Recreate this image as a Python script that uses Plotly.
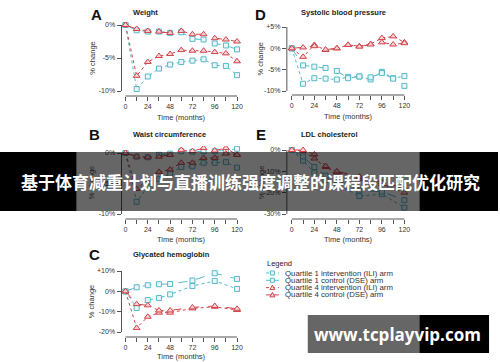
import plotly.graph_objects as go

W, H = 500, 362

# ---------------- data ----------------
months11 = [0, 12, 24, 36, 48, 60, 72, 84, 96, 108, 120]
months8 = [0, 12, 24, 36, 48, 72, 96, 120]
x_tick_vals = [0, 12, 24, 36, 48, 60, 72, 84, 96, 108, 120]
x_tick_text = ["0", "", "24", "", "48", "", "72", "", "96", "", "120"]

weight_q1_ili = [0, -9.7, -7.8, -6.6, -6.0, -5.6, -5.4, -5.2, -6.1, -6.2, -7.6]
weight_q1_dse = [0, -0.8, -1.0, -1.0, -1.2, -1.1, -2.1, -2.2, -2.8, -3.1, -3.7]
weight_q4_ili = [0, -7.7, -5.6, -4.7, -4.4, -3.8, -3.9, -3.9, -4.1, -4.3, -5.5]
weight_q4_dse = [0, -0.6, -0.9, -1.0, -1.2, -0.9, -1.4, -1.4, -2.0, -2.2, -2.5]

sbp_q1_ili = [0, -8.3, -7.0, -7.1, -7.3, -6.7, -6.6, -7.3, -5.5, -7.0, -6.5]
sbp_q1_dse = [0, -4.0, -4.3, -4.6, -5.3, -7.0, -6.6, -6.8, -5.8, -7.1, -8.8]
sbp_q4_ili = [0, -2.0, 0.8, -0.4, 0.0, 0.8, 0.5, 1.0, 2.4, 2.8, 1.4]
sbp_q4_dse = [0, 0.2, 0.5, -0.3, 0.0, 0.8, 0.4, 0.9, 1.4, 0.9, 1.2]

waist_q1_ili = [0, -8.0, -5.5, -4.3, -3.4, -2.3, -2.2, -1.6, -1.6, -1.5, -2.4]
waist_q1_dse = [0, -0.6, -0.7, -0.3, -0.1, 0.3, 0.2, 0.3, 0.3, 0.4, 0.7]
waist_q4_ili = [0, -5.9, -4.4, -3.1, -2.7, -1.6, -1.6, -0.8, -0.8, -0.1, -0.3]
waist_q4_dse = [0, -0.6, -0.7, -0.6, -0.3, 0.5, 0.3, 0.8, 0.4, 0.8, -0.3]

ldl_q1_ili = [0, -5.0, -10.5, -14.0, -16.0, -21.6, -20.7, -27.0]
ldl_q1_dse = [0, -3.0, -8.0, -12.0, -14.0, -19.0, -19.5, -23.5]
ldl_q4_ili = [0, -0.5, -4.0, -8.0, -10.5, -13.5, -16.0, -20.0]
ldl_q4_dse = [0, 0.0, -2.0, -7.5, -10.0, -12.5, -15.0, -18.0]

hba1c_q1_ili = [0, -8.2, -4.3, -3.3, -1.5, 2.6, 5.1, 1.2]
hba1c_q1_dse = [0, 2.0, 3.0, 3.5, 3.6, 5.3, 8.9, 6.1]
hba1c_q4_ili = [0, -18.0, -12.5, -10.5, -10.5, -8.4, -7.6, -9.2]
hba1c_q4_dse = [0, -6.3, -6.9, -9.4, -9.4, -7.9, -7.2, -8.6]

legend_labels = [
    "Quartile 1 intervention (ILI) arm",
    "Quartile 1 control (DSE) arm",
    "Quartile 4 intervention (ILI) arm",
    "Quartile 4 control (DSE) arm",
]
banner_text = "基于体育减重计划与直播训练强度调整的课程段匹配优化研究"
watermark_text = "www.tcplayvip.com"

# ---------------- styles ----------------
CYAN = "#56B9CB"
RED = "#D2434B"
CYAN_FILL = "#EAF6F8"
RED_FILL = "#F6D3D5"
AX = "#555555"
TXT = "#333333"
FONT = "Liberation Sans, Arial, sans-serif"

# panel geometry in pixels: left, right, x@0, x@120, top, bottom, (v1, py1), (v2, py2)
panels = [
    dict(key="A", title="Weight", months=months11,
         series=[weight_q1_ili, weight_q1_dse, weight_q4_ili, weight_q4_dse],
         geo=(122, 242, 126, 238, 20, 96, (0, 25), (-10, 91)),
         yt=[0, -5, -10], ytt=["0%", "-5%", "-10%"],
         letter=(97, 15), title_xy=(132, 12), ylab_x=92, xlab_dy=21),
    dict(key="D", title="Systolic blood pressure", months=months11,
         series=[sbp_q1_ili, sbp_q1_dse, sbp_q4_ili, sbp_q4_dse],
         geo=(288, 410, 293, 406, 22, 95, (5, 27), (-10, 91)),
         yt=[5, 0, -5, -10], ytt=["+5%", "0%", "-5%", "-10%"],
         letter=(262, 15), title_xy=(300, 13), ylab_x=262, xlab_dy=21),
    dict(key="B", title="Waist circumference", months=months11,
         series=[waist_q1_ili, waist_q1_dse, waist_q4_ili, waist_q4_dse],
         geo=(122, 242, 126, 238, 146, 219, (0, 153), (-10, 214)),
         yt=[0, -5, -10], ytt=["0%", "-5%", "-10%"],
         letter=(95, 134), title_xy=(132, 134), ylab_x=92, xlab_dy=20),
    dict(key="E", title="LDL cholesterol", months=months8,
         series=[ldl_q1_ili, ldl_q1_dse, ldl_q4_ili, ldl_q4_dse],
         geo=(288, 410, 293, 406, 145, 219, (0, 150), (-30, 214)),
         yt=[0, -10, -20, -30], ytt=["0%", "-10%", "-20%", "-30%"],
         letter=(262, 134), title_xy=(300, 134), ylab_x=262, xlab_dy=20),
    dict(key="C", title="Glycated hemoglobin", months=months8,
         series=[hba1c_q1_ili, hba1c_q1_dse, hba1c_q4_ili, hba1c_q4_dse],
         geo=(122, 242, 126, 238, 266, 337, (10, 271), (-20, 332)),
         yt=[10, 0, -10, -20], ytt=["+10%", "0%", "-10%", "-20%"],
         letter=(95, 254), title_xy=(132, 254), ylab_x=92, xlab_dy=19),
]

series_style = [
    dict(color=CYAN, fill=CYAN_FILL, dash="dot", symbol="square", size=5),
    dict(color=CYAN, fill=CYAN_FILL, dash="dash", symbol="square", size=5),
    dict(color=RED, fill=RED_FILL, dash="dot", symbol="triangle-up", size=6),
    dict(color=RED, fill=RED_FILL, dash="dash", symbol="triangle-up", size=6),
]


def px(x):
    return x / W


def py(y):
    return 1 - y / H


fig = go.Figure()
layout = dict(
    width=W, height=H, margin=dict(l=0, r=0, t=0, b=0),
    paper_bgcolor="white", plot_bgcolor="rgba(0,0,0,0)",
    showlegend=False, font=dict(family=FONT, color=TXT, size=7),
)
shapes = []
annotations = []

for i, p in enumerate(panels):
    n = i + 1
    xa = "xaxis" if n == 1 else f"xaxis{n}"
    ya = "yaxis" if n == 1 else f"yaxis{n}"
    xr_ = "x" if n == 1 else f"x{n}"
    yr_ = "y" if n == 1 else f"y{n}"
    left, right, t0, t120, top, bottom, (v1, p1), (v2, p2) = p["geo"]
    sx = (t120 - t0) / 120.0
    xrange = [0 - (t0 - left) / sx, 120 + (right - t120) / sx]

    def val(pix):
        return v1 + (pix - p1) * (v2 - v1) / (p2 - p1)
    yrange = [val(bottom), val(top)]
    layout[xa] = dict(domain=[px(left), px(right)], range=xrange, anchor=yr_,
                      showgrid=False, zeroline=False, showline=False,
                      ticks="outside", ticklen=4, tickwidth=1, tickcolor=AX,
                      tickvals=x_tick_vals, ticktext=x_tick_text,
                      tickfont=dict(size=7, color=TXT, family=FONT), fixedrange=True)
    layout[ya] = dict(domain=[py(bottom), py(top)], range=yrange, anchor=xr_,
                      showgrid=False, zeroline=False, showline=False,
                      ticks="outside", ticklen=4, tickwidth=1, tickcolor=AX,
                      tickvals=p["yt"], ticktext=p["ytt"],
                      tickfont=dict(size=7, color=TXT, family=FONT), fixedrange=True)
    # R-style axis lines spanning only between extreme ticks
    shapes.append(dict(type="line", xref=xr_, yref="paper", x0=0, x1=120,
                       y0=py(bottom), y1=py(bottom), line=dict(color=AX, width=1)))
    shapes.append(dict(type="line", xref="paper", yref=yr_, x0=px(left), x1=px(left),
                       y0=min(p["yt"]), y1=max(p["yt"]), line=dict(color=AX, width=1)))
    for s, st in zip(p["series"], series_style):
        fig.add_trace(go.Scatter(
            x=p["months"], y=s, xaxis=xr_, yaxis=yr_, mode="lines+markers",
            line=dict(color=st["color"], width=1, dash=st["dash"]),
            marker=dict(symbol=st["symbol"], size=st["size"], color=st["fill"],
                        line=dict(color=st["color"], width=1)),
            hoverinfo="skip"))
    # texts
    lx, ly = p["letter"]
    annotations.append(dict(text=f"<b>{p['key']}</b>", x=px(lx), y=py(ly), xref="paper", yref="paper",
                            xanchor="center", yanchor="middle", showarrow=False,
                            font=dict(size=15, color="#111111", family=FONT)))
    tx, ty = p["title_xy"]
    annotations.append(dict(text=f"<b>{p['title']}</b>", x=px(tx), y=py(ty), xref="paper", yref="paper",
                            xanchor="left", yanchor="middle", showarrow=False,
                            font=dict(size=7.5, color="#222222", family=FONT)))
    under_banner = 150 < (top + bottom) / 2 < 215
    annotations.append(dict(text="% change", x=px(p["ylab_x"]), y=py((top + bottom) / 2),
                            xref="paper", yref="paper", xanchor="center", yanchor="middle",
                            textangle=-90, showarrow=False,
                            font=dict(size=7.5, color="#1e1e1e" if under_banner else TXT, family=FONT)))
    annotations.append(dict(text="Time (months)", x=px((t0 + t120) / 2), y=py(bottom + p["xlab_dy"]),
                            xref="paper", yref="paper", xanchor="center", yanchor="middle",
                            showarrow=False, borderpad=0,
                            font=dict(size=7.5, color=TXT, family=FONT)))

# ---------------- manual legend ----------------
annotations.append(dict(text="Legend", x=px(266), y=py(263), xref="paper", yref="paper",
                        xanchor="left", yanchor="middle", showarrow=False,
                        font=dict(size=7.5, color="#222222", family=FONT)))
for k, (lab, st) in enumerate(zip(legend_labels, series_style)):
    yy = 273 + k * 7.3
    shapes.append(dict(type="line", xref="paper", yref="paper", x0=px(267), x1=px(280),
                       y0=py(yy), y1=py(yy),
                       line=dict(color=st["color"], width=1, dash="dot" if st["dash"] == "dot" else "solid")))
    cx = 273.5
    if st["symbol"] == "square":
        shapes.append(dict(type="rect", xref="paper", yref="paper", x0=px(cx - 2), x1=px(cx + 2),
                           y0=py(yy + 2), y1=py(yy - 2), fillcolor=st["fill"],
                           line=dict(color=st["color"], width=1)))
    else:
        path = f"M {px(cx - 2.5)} {py(yy + 2)} L {px(cx + 2.5)} {py(yy + 2)} L {px(cx)} {py(yy - 2.5)} Z"
        shapes.append(dict(type="path", xref="paper", yref="paper", path=path, fillcolor=st["fill"],
                           line=dict(color=st["color"], width=1)))
    annotations.append(dict(text=lab, x=px(284), y=py(yy), xref="paper", yref="paper",
                            xanchor="left", yanchor="middle", showarrow=False,
                            font=dict(size=7.8, color=TXT, family=FONT)))

# ---------------- overlays (banner + watermark) ----------------
OV = "rgba(0,0,0,0.6)"
for (x0, x1, y0, y1, col) in [
    (0, 77, 152, 211, "black"), (77, 421, 152, 211, OV), (421, 500, 152, 211, "black"),
    (309, 421, 315, 353, OV), (421, 491, 315, 353, "black"),
]:
    shapes.append(dict(type="rect", xref="paper", yref="paper", layer="above",
                       x0=px(x0), x1=px(x1), y0=py(y1), y1=py(y0),
                       fillcolor=col, line=dict(width=0)))
annotations.append(dict(text=f"<b>{banner_text}</b>", x=px(19), y=py(181.5), xref="paper", yref="paper",
                        xanchor="left", yanchor="middle", showarrow=False,
                        font=dict(size=17, color="white", family="Noto Sans CJK SC")))
annotations.append(dict(text=f"<b>{watermark_text}</b>", x=px(399), y=py(334), xref="paper", yref="paper",
                        xanchor="center", yanchor="middle", showarrow=False,
                        font=dict(size=17, color="white", family="Open Sans, Noto Sans, sans-serif")))

layout["shapes"] = shapes
layout["annotations"] = annotations
fig.update_layout(**layout)
fig.write_html("out.html",
               config={"displayModeBar": False, "staticPlot": True},
               post_script="document.body.style.margin='0';document.body.style.padding='0';")
